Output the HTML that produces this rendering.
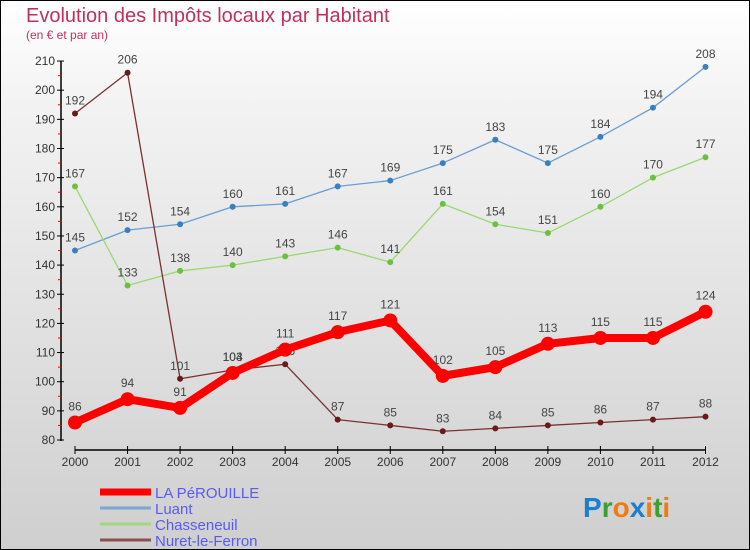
<!DOCTYPE html>
<html><head><meta charset="utf-8"><style>
body{margin:0}
#c{width:750px;height:550px;position:relative;box-sizing:border-box;border:1px solid #000;background:linear-gradient(#fff,#f2f2f2 20%,#cfcfcf);font-family:"Liberation Sans",sans-serif;overflow:hidden}
</style></head><body>
<div id="c">
<svg id="s" width="750" height="550" style="position:absolute;left:-1px;top:-1px">
<text x="26" y="22" font-size="20" fill="#c0305e">Evolution des Impôts locaux par Habitant</text>
<text x="26" y="39" font-size="12" fill="#c0305e">(en € et par an)</text>
<text x="583" y="517" font-size="28" font-weight="bold"><tspan fill="#1a7fd0">P</tspan><tspan fill="#3aa030">r</tspan><tspan fill="#f07b10">o</tspan><tspan fill="#1a7fd0">x</tspan><tspan fill="#f07b10">i</tspan><tspan fill="#3aa030">t</tspan><tspan fill="#f07b10">i</tspan></text>
</svg>
</div>
<script>
const years=[2000,2001,2002,2003,2004,2005,2006,2007,2008,2009,2010,2011,2012];
const yTicks=[80,90,100,110,120,130,140,150,160,170,180,190,200,210];
const perouille=[86,94,91,103,111,117,121,102,105,113,115,115,124];
const luant=[145,152,154,160,161,167,169,175,183,175,184,194,208];
const chasseneuil=[167,133,138,140,143,146,141,161,154,151,160,170,177];
const nuret=[192,206,101,104,106,87,85,83,84,85,86,87,88];
const NS="http://www.w3.org/2000/svg",s=document.getElementById('s');
const X=i=>75+i*(705.5-75)/12, Y=v=>440-(v-80)*2.915;
function el(t,a,p){const e=document.createElementNS(NS,t);for(const k in a)e.setAttribute(k,a[k]);(p||s).appendChild(e);return e;}
let ax=el('path',{d:`M61 ${Y(210)}V441M75 450H706`,stroke:'#000','stroke-width':1.5,fill:'none'});


yTicks.forEach(v=>{el('line',{x1:57,x2:64,y1:Y(v),y2:Y(v),stroke:'#000'});
 if(v<210)el('line',{x1:58,x2:62,y1:Y(v+5),y2:Y(v+5),stroke:'#e00'});
 const t=el('text',{x:55,y:Y(v)+4,'font-size':12,fill:'#333','text-anchor':'end'});t.textContent=v;
 
 });
years.forEach((y,i)=>{el('line',{x1:X(i),x2:X(i),y1:446,y2:454,stroke:'#000'});
 const t=el('text',{x:X(i),y:466,'font-size':12,fill:'#333','text-anchor':'middle'});t.textContent=y;
 
 });
function series(d,col,w,r,name,dark){const g=el('g',{});
 
 
 el('polyline',{points:d.map((v,i)=>X(i)+','+Y(v)).join(' '),stroke:col,'stroke-width':w,fill:'none','stroke-linejoin':'round'},g);
 d.forEach((v,i)=>{const c=el('circle',{cx:X(i),cy:Y(v),r:r,fill:dark||col},g);
  
  
  const t=el('text',{x:X(i),y:Y(v)-9-(r>4?3:0),'font-size':12,fill:'#444','text-anchor':'middle'},g);t.textContent=v;});}
series(luant,'#6a9ed0',1.3,3,'luant-series','#3a80c0');
series(chasseneuil,'#9ad870',1.3,3,'chasseneuil-series','#6cc040');
series(nuret,'#7a3030',1.3,3,'nuret-series','#6a1a1a');
series(perouille,'#f00',8,7,'perouille-series');
const leg=[['LA PéROUILLE','#f00',7],['Luant','#7aa8d0',3],['Chasseneuil','#a0d880',3],['Nuret-le-Ferron','#8a5050',3]];
leg.forEach((l,i)=>{const y=492+i*16;const g=el('g',{});
 
 
 el('line',{x1:100,x2:151,y1:y,y2:y,stroke:l[1],'stroke-width':l[2]},g);
 const t=el('text',{x:155,y:y+6,'font-size':15,fill:'#5a5af0'},g);t.textContent=l[0];});
</script>
</body></html>
